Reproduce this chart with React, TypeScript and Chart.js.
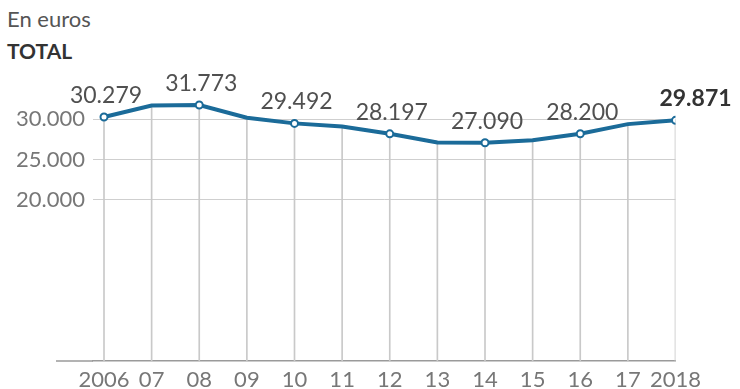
import React, { useEffect, useRef } from 'react';
import { Chart, registerables } from 'chart.js';

Chart.register(...registerables);

const years = [2006, 2007, 2008, 2009, 2010, 2011, 2012, 2013, 2014, 2015, 2016, 2017, 2018];
const tickLabels = ['2006', '07', '08', '09', '10', '11', '12', '13', '14', '15', '16', '17', '2018'];
const values = [30279, 31700, 31773, 30200, 29492, 29100, 28197, 27120, 27090, 27400, 28200, 29400, 29871];
const labeled = [true, false, true, false, true, false, true, false, true, false, true, false, true];
const yTicks = [20000, 25000, 30000];

const fmt = (n: number) => String(n).replace(/\B(?=(\d{3})+(?!\d))/g, '.');

const BLUE = '#1b6b99';
const FONT = 'Lato, "Open Sans", sans-serif';

const labelPlugin = {
  id: 'pointLabels',
  afterDatasetsDraw(chart: any) {
    const meta = chart.getDatasetMeta(0);
    const ctx = chart.ctx;
    ctx.save();
    meta.data.forEach((pt: any, i: number) => {
      if (!labeled[i]) return;
      const last = i === values.length - 1;
      ctx.font = (last ? '700 ' : '400 ') + '23px ' + FONT;
      ctx.fillStyle = last ? '#333333' : '#505050';
      ctx.textAlign = 'center';
      ctx.textBaseline = 'alphabetic';
      ctx.fillText(fmt(values[i]), pt.x + (last ? 20 : 2), pt.y - 14);
    });
    ctx.restore();
  },
};

const axisExtPlugin = {
  id: 'axisExt',
  beforeDatasetsDraw(chart: any) {
    const { ctx, chartArea } = chart;
    ctx.save();
    ctx.strokeStyle = '#9a9a9a';
    ctx.lineWidth = 1.5;
    ctx.beginPath();
    ctx.moveTo(56, chartArea.bottom);
    ctx.lineTo(chartArea.left, chartArea.bottom);
    ctx.stroke();
    ctx.restore();
  },
};

export default function App() {
  const ref = useRef<HTMLCanvasElement>(null);

  useEffect(() => {
    document.body.style.margin = '0';
    const points = years.map((x, i) => ({ x, y: values[i] }));
    const chart = new Chart(ref.current as HTMLCanvasElement, {
      type: 'line',
      data: {
        datasets: [
          {
            type: 'line',
            data: points,
            borderColor: BLUE,
            borderWidth: 4,
            tension: 0,
            pointRadius: labeled.map((b) => (b ? 3.5 : 0)),
            pointBackgroundColor: '#ffffff',
            pointBorderColor: BLUE,
            pointBorderWidth: 2,
            order: 0,
          } as any,
          {
            type: 'bar',
            data: points,
            backgroundColor: '#c9c9c9',
            barThickness: 1,
            order: 1,
          } as any,
        ],
      },
      options: {
        responsive: false,
        animation: false,
        layout: { padding: { top: 79, right: 64.5, left: 0, bottom: 0 } },
        plugins: { legend: { display: false }, tooltip: { enabled: false } },
        scales: {
          x: {
            type: 'linear',
            min: 2006 - 11 / 47.625,
            max: 2018,
            offset: false,
            grid: { display: false, drawTicks: false, offset: false },
            border: { display: true, color: '#9a9a9a', width: 1.5 },
            afterBuildTicks: (scale: any) => {
              scale.ticks = years.map((v) => ({ value: v }));
            },
            afterFit: (scale: any) => {
              scale.height = 28;
            },
            ticks: {
              autoSkip: false,
              maxRotation: 0,
              padding: 8,
              color: '#777777',
              font: { family: FONT, size: 22, weight: '400' as any, lineHeight: 1 },
              callback: (v: any) => tickLabels[years.indexOf(Number(v))] ?? '',
            },
          },
          y: {
            type: 'linear',
            min: 0,
            max: 35000,
            grid: { color: '#cfcfcf', lineWidth: 1, drawTicks: false },
            border: { display: false },
            afterBuildTicks: (scale: any) => {
              scale.ticks = yTicks.map((v) => ({ value: v }));
            },
            afterFit: (scale: any) => {
              scale.width = 93;
            },
            ticks: {
              padding: 8,
              color: '#777777',
              font: { family: FONT, size: 22, weight: '400' as any },
              callback: (v: any) => fmt(Number(v)),
            },
          },
        },
      } as any,
      plugins: [labelPlugin, axisExtPlugin],
    });
    return () => chart.destroy();
  }, []);

  return (
    <div style={{ position: 'relative', width: 740, height: 389, overflow: 'hidden' }}>
      <div
        style={{
          position: 'absolute',
          left: 7,
          top: 8,
          fontFamily: FONT,
          fontSize: 22,
          lineHeight: '22px',
          fontWeight: 400,
          color: '#555555',
          whiteSpace: 'nowrap',
        }}
      >
        En euros
      </div>
      <div
        style={{
          position: 'absolute',
          left: 7,
          top: 40,
          fontFamily: FONT,
          fontSize: 21,
          lineHeight: '21px',
          fontWeight: 700,
          color: '#333333',
          whiteSpace: 'nowrap',
        }}
      >
        TOTAL
      </div>
      <canvas ref={ref} width={740} height={389} style={{ position: 'absolute', left: 0, top: 0 }} />
    </div>
  );
}
